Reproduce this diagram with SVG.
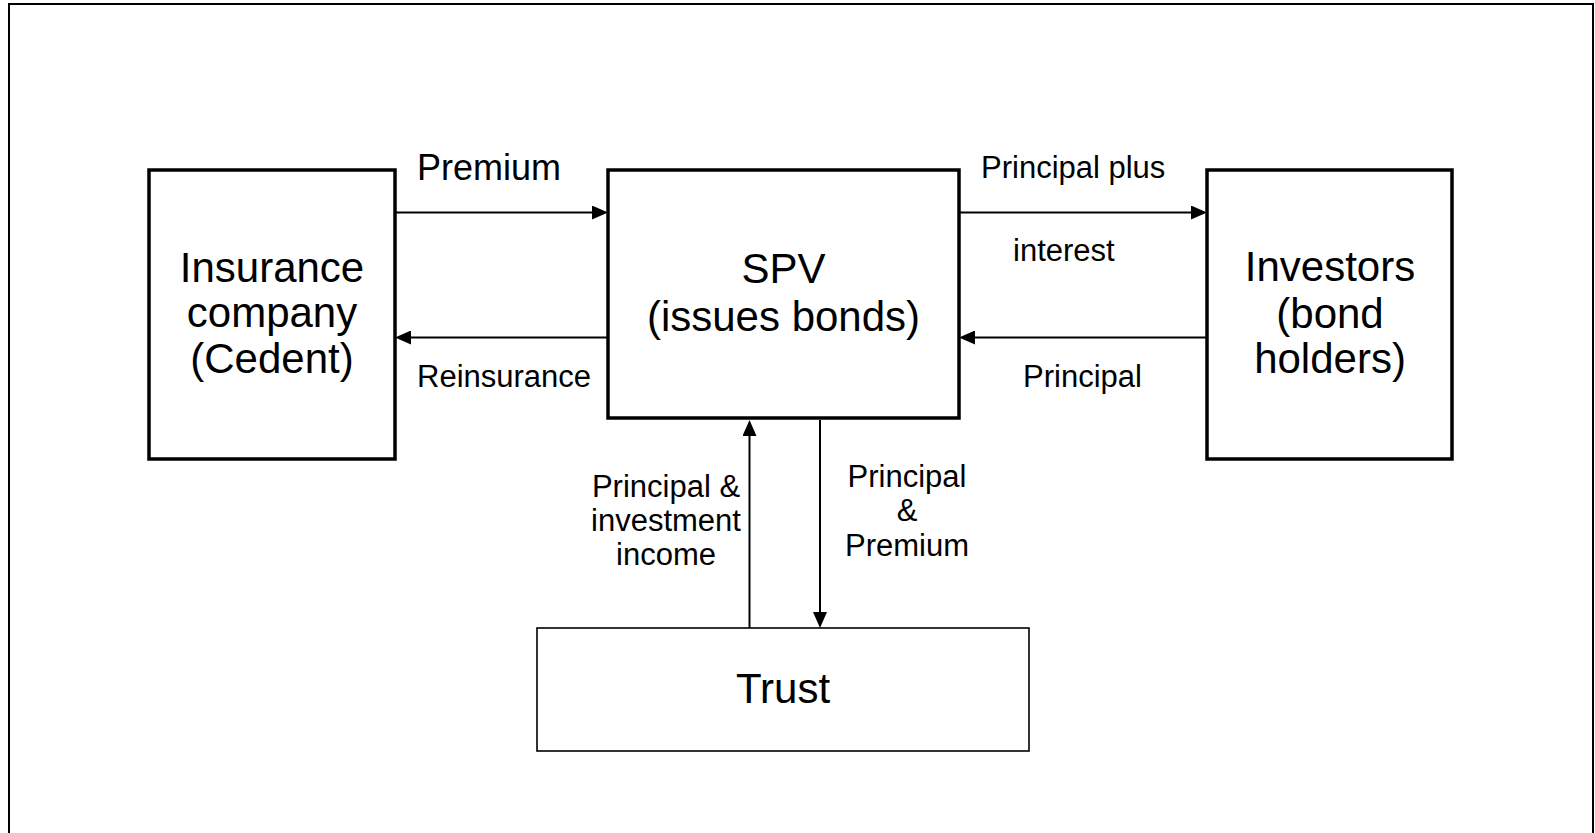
<svg xmlns="http://www.w3.org/2000/svg" width="1595" height="833" viewBox="0 0 1595 833">
  <style>
    .box { fill: #ffffff; stroke: #000000; stroke-width: 3.5; }
    .thin { fill: #ffffff; stroke: #000000; stroke-width: 1.6; }
    .frame { fill: #ffffff; stroke: #000000; stroke-width: 2; }
    .conn { stroke: #000000; stroke-width: 2; fill: none; }
    text { font-family: "Liberation Sans", Arial, sans-serif; fill: #000000; }
    .big { font-size: 42px; text-anchor: middle; }
    .lbl { font-size: 31px; }
    .mid { text-anchor: middle; }
  </style>
  <defs>
    <marker id="arr" markerUnits="userSpaceOnUse" markerWidth="16" markerHeight="14" refX="0" refY="7" orient="auto">
      <path d="M0,0 L16,7 L0,14 z" fill="#000000"/>
    </marker>
  </defs>
  <rect class="frame" x="9" y="4" width="1584" height="840"/>

  <g id="insurance">
    <rect class="box" x="149" y="170" width="246" height="289"/>
    <text class="big" x="272" y="282">Insurance</text>
    <text class="big" x="272" y="327">company</text>
    <text class="big" x="272" y="373">(Cedent)</text>
  </g>

  <g id="spv">
    <rect class="box" x="608" y="170" width="351" height="248"/>
    <text class="big" x="783.5" y="283">SPV</text>
    <text class="big" x="783.5" y="331">(issues bonds)</text>
  </g>

  <g id="investors">
    <rect class="box" x="1207" y="170" width="245" height="289"/>
    <text class="big" x="1330" y="281">Investors</text>
    <text class="big" x="1330" y="327.5">(bond</text>
    <text class="big" x="1330" y="373">holders)</text>
  </g>

  <g id="trust">
    <rect class="thin" x="537" y="628" width="492" height="123"/>
    <text class="big" x="783" y="703">Trust</text>
  </g>

  <g id="connectors">
    <line class="conn" x1="395" y1="212.5" x2="592" y2="212.5" marker-end="url(#arr)"/>
    <line class="conn" x1="608" y1="337.5" x2="411" y2="337.5" marker-end="url(#arr)"/>
    <line class="conn" x1="959" y1="212.5" x2="1191" y2="212.5" marker-end="url(#arr)"/>
    <line class="conn" x1="1207" y1="337.5" x2="975" y2="337.5" marker-end="url(#arr)"/>
    <line class="conn" x1="749.5" y1="628" x2="749.5" y2="436" marker-end="url(#arr)"/>
    <line class="conn" x1="820" y1="420" x2="820" y2="612" marker-end="url(#arr)"/>

    <text x="417" y="180" style="font-size:36px">Premium</text>
    <text class="lbl" x="417" y="387">Reinsurance</text>
    <text class="lbl" x="981" y="178">Principal plus</text>
    <text class="lbl" x="1013" y="261">interest</text>
    <text class="lbl" x="1023" y="387">Principal</text>
    <text class="lbl mid" x="666" y="497">Principal &amp;</text>
    <text class="lbl mid" x="666" y="531">investment</text>
    <text class="lbl mid" x="666" y="565">income</text>
    <text class="lbl mid" x="907" y="487">Principal</text>
    <text class="lbl mid" x="907" y="521">&amp;</text>
    <text class="lbl mid" x="907" y="556">Premium</text>
  </g>
</svg>
